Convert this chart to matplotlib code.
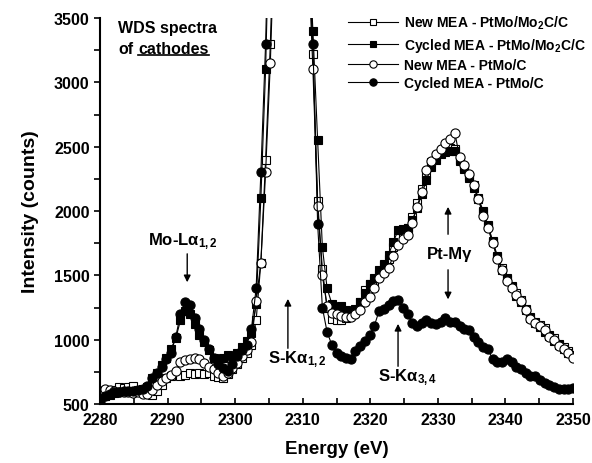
import matplotlib
matplotlib.use("Agg")
import matplotlib.pyplot as plt
import numpy as np
from matplotlib.ticker import MultipleLocator

plt.rcParams['font.family'] = ['Liberation Sans', 'DejaVu Sans']
plt.rcParams['font.weight'] = 'bold'
plt.rcParams['mathtext.fontset'] = 'custom'
plt.rcParams['mathtext.rm'] = 'Liberation Sans:bold'
plt.rcParams['mathtext.bf'] = 'Liberation Sans:bold'
plt.rcParams['mathtext.it'] = 'Liberation Sans:bold'
plt.rcParams['mathtext.default'] = 'bf'

# energy grid (eV), 0.7 eV steps
energy = np.round(np.arange(2280.0, 2350.01, 0.7), 1)

new_mo2c = [540, 560, 590, 610, 630, 625, 630, 640, 610, 595,
            580, 570, 600, 650, 700, 720, 730, 720, 725, 740,
            735, 745, 730, 740, 720, 710, 700, 730, 770, 810,
            860, 900, 960, 1150, 1600, 2400, 3300, 4500, 6000, 8000,
            9500, 9500, 8000, 6000, 4200, 3220, 2080, 1550, 1250, 1160,
            1150, 1155, 1170, 1190, 1230, 1290, 1390, 1430, 1460, 1510,
            1580, 1630, 1720, 1790, 1830, 1870, 1950, 2060, 2170, 2290,
            2380, 2430, 2460, 2480, 2490, 2480, 2400, 2340, 2270, 2200,
            2100, 2000, 1890, 1770, 1650, 1560, 1480, 1420, 1360, 1310,
            1240, 1180, 1140, 1115, 1090, 1040, 1010, 970, 940, 910,
            880]

cyc_mo2c = [540, 560, 570, 585, 590, 595, 600, 600, 605, 615,
            630, 700, 740, 800, 860, 930, 1010, 1150, 1220, 1200,
            1120, 1040, 980, 920, 860, 820, 860, 880, 870, 900,
            940, 990, 1050, 1280, 2100, 3100, 4600, 6500, 8500, 9500,
            9800, 9000, 7500, 5500, 4200, 3400, 2550, 1720, 1400, 1280,
            1250, 1260, 1230, 1220, 1240, 1290, 1360, 1430, 1480, 1540,
            1590, 1660, 1760, 1850, 1860, 1870, 1930, 2020, 2130, 2240,
            2340, 2400, 2440, 2460, 2465, 2470, 2390, 2330, 2260, 2180,
            2090, 1990, 1880, 1760, 1640, 1540, 1470, 1410, 1340, 1290,
            1230, 1170, 1130, 1100, 1060, 1030, 990, 960, 930, 900,
            870]

new_c = [600, 620, 610, 600, 595, 590, 590, 585, 590, 580,
         580, 610, 650, 680, 700, 725, 760, 830, 840, 850,
         860, 850, 820, 790, 770, 740, 720, 740, 780, 820,
         870, 920, 980, 1300, 1600, 2300, 3150, 4300, 6000, 8000,
         9500, 9500, 8000, 6000, 4000, 3100, 2040, 1500, 1260, 1210,
         1200, 1185, 1175, 1180, 1200, 1230, 1290, 1330, 1400, 1480,
         1520, 1560, 1650, 1740, 1780, 1810, 1910, 2030, 2150, 2320,
         2390, 2440, 2480, 2530, 2560, 2610, 2420, 2360, 2290, 2200,
         2090, 1960, 1870, 1750, 1630, 1540, 1460, 1400, 1350, 1300,
         1230, 1160, 1130, 1110, 1075, 1020, 995, 955, 930, 900,
         860]

cyc_c = [520, 560, 575, 590, 595, 600, 605, 600, 610, 620,
         640, 700, 740, 790, 850, 900, 1020, 1200, 1290, 1270,
         1170, 1080, 1000, 930, 860, 810, 780, 760, 810, 870,
         920, 960, 1080, 1400, 2300, 3300, 4800, 6500, 8500, 9500,
         9800, 9000, 7500, 5500, 4000, 3300, 1900, 1250, 1060, 960,
         900, 870, 860, 850, 910, 950, 990, 1040, 1110, 1225,
         1240, 1270, 1300, 1310, 1250, 1200, 1130, 1110, 1130, 1150,
         1130, 1120, 1140, 1170, 1140, 1135, 1110, 1080, 1075, 1020,
         980, 945, 925, 850, 825, 830, 850, 825, 790, 775,
         745, 720, 715, 690, 665, 645, 630, 620, 615, 618,
         628]

fig = plt.figure(figsize=(5.92, 4.64), dpi=100)
ax = fig.add_axes([0.169, 0.127, 0.799, 0.832])

ms = 6.6
ax.plot(energy, new_mo2c, '-', color='black', lw=0.8, marker='s', ms=ms - 0.6,
        mfc='white', mec='black', mew=0.8, label=r'New MEA - PtMo/Mo$_{2}$C/C')
ax.plot(energy, cyc_mo2c, '-', color='black', lw=0.8, marker='s', ms=ms - 0.6,
        mfc='black', mec='black', mew=0.8, label=r'Cycled MEA - PtMo/Mo$_{2}$C/C')
ax.plot(energy, new_c, '-', color='black', lw=0.8, marker='o', ms=ms,
        mfc='white', mec='black', mew=0.8, label='New MEA - PtMo/C')
ax.plot(energy, cyc_c, '-', color='black', lw=0.8, marker='o', ms=ms,
        mfc='black', mec='black', mew=0.8, label='Cycled MEA - PtMo/C')

ax.set_xlim(2280, 2350)
ax.set_ylim(500, 3500)
ax.xaxis.set_major_locator(MultipleLocator(10))
ax.xaxis.set_minor_locator(MultipleLocator(5))
ax.yaxis.set_major_locator(MultipleLocator(500))
ax.yaxis.set_minor_locator(MultipleLocator(250))
ax.spines['top'].set_visible(False)
ax.spines['right'].set_visible(False)
ax.spines['left'].set_linewidth(1.5)
ax.spines['bottom'].set_linewidth(1.5)
ax.tick_params(axis='x', which='both', direction='in', length=4, width=1.2,
               labelsize=11.5, pad=6)
ax.tick_params(axis='y', which='both', direction='out', length=4, width=1.2,
               labelsize=11.5)
for lab in ax.get_xticklabels() + ax.get_yticklabels():
    lab.set_fontweight('bold')

ax.set_xlabel('Energy (eV)', fontsize=13.5, fontweight='bold', labelpad=9)
ax.set_ylabel('Intensity (counts)', fontsize=14, fontweight='bold', labelpad=11)

leg = ax.legend(loc='upper left', bbox_to_anchor=(348 / 592, 1 - 15 / 464),
                bbox_transform=fig.transFigure, frameon=False, fontsize=10,
                handlelength=3.6, handletextpad=0.4, labelspacing=0.3,
                borderaxespad=0, borderpad=0, markerscale=0.8)

# title-like note, "cathodes" underlined
fig.canvas.draw()
rend = fig.canvas.get_renderer()
ax.text(2282.7, 3430, 'WDS spectra', fontsize=11.5, fontweight='bold', va='center')
t_of = ax.text(2282.7, 3265, 'of', fontsize=11.5, fontweight='bold', va='center')
bb = t_of.get_window_extent(rend)
x_cat = ax.transData.inverted().transform((bb.x1 + 5, bb.y0))[0]
t_cat = ax.text(x_cat, 3265, 'cathodes', fontsize=11.5, fontweight='bold', va='center')
bb2 = t_cat.get_window_extent(rend)
(x0, y0), (x1, _) = ax.transData.inverted().transform([(bb2.x0, bb2.y0), (bb2.x1, bb2.y0)])
ax.plot([x0, x1], [y0 + 5, y0 + 5], color='black', lw=1.2)

arr = dict(arrowstyle='-|>', color='black', lw=1.0, mutation_scale=10)
ax.text(2287.1, 1767, r'Mo-Lα$_{1,2}$', fontsize=12, fontweight='bold', va='center')
ax.annotate('', xy=(2292.9, 1425), xytext=(2292.9, 1689), arrowprops=arr)

ax.text(2304.9, 850, r'S-Kα$_{1,2}$', fontsize=12, fontweight='bold', va='center')
ax.annotate('', xy=(2307.8, 1339), xytext=(2307.8, 912), arrowprops=arr)

ax.text(2331.7, 1673, 'Pt-Mγ', fontsize=12, fontweight='bold', va='center', ha='center')
ax.annotate('', xy=(2331.5, 2054), xytext=(2331.5, 1798), arrowprops=arr)
ax.annotate('', xy=(2331.5, 1292), xytext=(2331.5, 1565), arrowprops=arr)

ax.text(2321.1, 710, r'S-Kα$_{3,4}$', fontsize=12, fontweight='bold', va='center')
ax.annotate('', xy=(2324.1, 1145), xytext=(2324.1, 772), arrowprops=arr)

fig.savefig('out.png', dpi=100)
